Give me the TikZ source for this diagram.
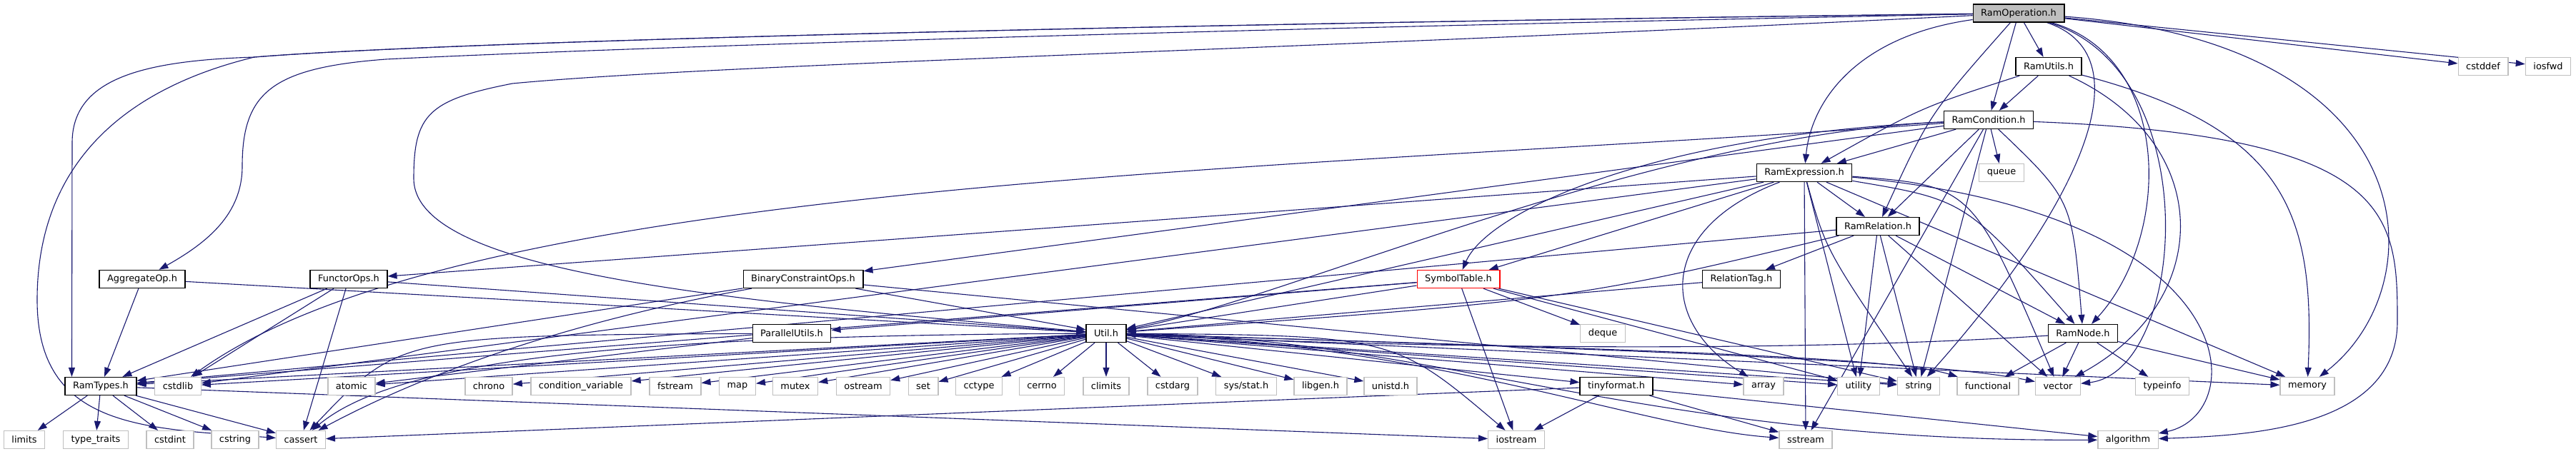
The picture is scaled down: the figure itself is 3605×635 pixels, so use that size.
\documentclass[tikz,border=0pt]{standalone}
\usepackage{fontspec}
\setmainfont{DejaVu Sans}
\usetikzlibrary{arrows.meta,backgrounds}

\definecolor{edgeblue}{HTML}{191970}
\definecolor{sysgray}{HTML}{BFBFBF}

\tikzset{
  hdr/.style={draw=black, line width=1.3pt, fill=white, minimum height=25pt,
    inner xsep=11pt, inner ysep=2pt, font=\fontsize{12.9pt}{15pt}\selectfont},
  syshdr/.style={hdr, draw=sysgray},
  mainhdr/.style={hdr, fill=sysgray},
  trunchdr/.style={hdr, draw=red},
  incl/.style={draw=edgeblue, line width=1.1pt, -{Triangle[length=13pt,width=9pt]}},
}

\begin{document}
\begin{tikzpicture}[x=1pt, y=-1pt]
    \useasboundingbox (0,0) rectangle (3605,635);

    % project headers
    \node[mainhdr] (op) at (2825,18.5) {RamOperation.h};
    \node[hdr] (utils) at (2867,93) {RamUtils.h};
    \node[hdr] (cond) at (2783,168) {RamCondition.h};
    \node[hdr] (expr) at (2525,242) {RamExpression.h};
    \node[hdr] (rel) at (2628,317) {RamRelation.h};
    \node[hdr] (aggr) at (199,391) {AggregateOp.h};
    \node[hdr] (functor) at (488,391) {FunctorOps.h};
    \node[hdr] (binop) at (1124,391) {BinaryConstraintOps.h};
    \node[trunchdr] (symtab) at (2041,391) {SymbolTable.h};
    \node[hdr] (reltag) at (2437,391) {RelationTag.h};
    \node[hdr] (parallel) at (1108,467) {ParallelUtils.h};
    \node[hdr] (util) at (1548,467) {Util.h};
    \node[hdr] (ramnode) at (2915,467) {RamNode.h};
    \node[hdr] (types) at (141,541) {RamTypes.h};
    \node[hdr] (tinyformat) at (2262,541) {tinyformat.h};

    % system headers
    \node[syshdr] (cstddef) at (3475,93) {cstddef};
    \node[syshdr] (iosfwd) at (3566,93) {iosfwd};
    \node[syshdr] (queue) at (2801,242) {queue};
    \node[syshdr] (deque) at (2243,467) {deque};
    \foreach \n/\x/\t in {cstdlib/249/cstdlib, atomic/492/atomic, chrono/684/chrono,
        condvar/813/condition\_variable, fstream/945/fstream, map/1032/map,
        mutex/1113/mutex, ostream/1208/ostream, set/1292/set, cctype/1370/cctype,
        cerrno/1458/cerrno, climits/1548/climits, cstdarg/1641/cstdarg,
        sysstat/1744/{sys/stat.h}, libgen/1848/libgen.h, unistd/1946/unistd.h,
        array/2468/array, utility/2601/utility, string/2685/string,
        functional/2782/functional, vector/2880/vector, typeinfo/3026/typeinfo,
        memory/3229/memory}
      \node[syshdr] (\n) at (\x,541) {\t};
    \foreach \n/\x/\t in {limits/34/limits, typetraits/134/type\_traits,
        cstdint/238/cstdint, cstring/329/cstring, cassert/421/cassert,
        iostream/2122/iostream, sstream/2527/sstream, algorithm/2978/algorithm}
      \node[syshdr] (\n) at (\x,616) {\t};

    \begin{scope}[on background layer]
    % RamOperation.h
    \draw[incl] (op) -- (utils);
    \draw[incl] (op) -- (cond);
    \draw[incl] (op) -- (cstddef);
    \draw[incl] (op) -- (iosfwd);
    \draw[incl] (op) .. controls (2600,50) and (2535,140) .. (expr);
    \draw[incl] (op) .. controls (2700,160) .. (rel);
    \draw[incl] (op) .. controls (3040,80) and (3040,330) .. (ramnode);
    \draw[incl] (op) .. controls (3010,80) and (2900,300) .. (string);
    \draw[incl] (op) .. controls (3090,100) and (3060,520) .. (vector);
    \draw[incl] (op) .. controls (3400,60) and (3410,400) .. (memory);
    \draw[incl] (op) .. controls (1500,35) and (600,60) .. (356,80)
      .. controls (200,85) and (101,110) .. (101,200) -- ([xshift=10pt]types.north west);
    \draw[incl] (op) .. controls (1500,35) and (600,60) .. (356,80)
      .. controls (150,130) and (52,250) .. (52,420)
      .. controls (52,600) and (200,600) .. (cassert);
    \draw[incl] (op) .. controls (1500,45) and (800,70) .. (540,83)
      .. controls (380,95) and (339,130) .. (339,233)
      .. controls (339,300) and (290,340) .. (aggr);
    \draw[incl] (op) .. controls (1800,70) and (1000,90) .. (717,117)
      .. controls (600,140) and (579,160) .. (579,250)
      .. controls (579,380) and (1000,420) .. (util);

    % RamUtils.h
    \draw[incl] (utils) -- (cond);
    \draw[incl] (utils) .. controls (2690,150) .. (expr);
    \draw[incl] (utils) .. controls (3200,180) and (3240,300) .. (memory);
    \draw[incl] (utils) .. controls (3100,200) and (3100,420) .. (vector);

    % RamCondition.h
    \draw[incl] (cond) -- (queue);
    \draw[incl] (cond) -- (expr);
    \draw[incl] (cond) -- (rel);
    \draw[incl] (cond) .. controls (2900,280) .. (ramnode);
    \draw[incl] (cond) -- (string);
    \draw[incl] (cond) -- (sstream);
    \draw[incl] (cond) -- (binop);
    \draw[incl] (cond) .. controls (2300,190) and (2080,300) .. (symtab);
    \draw[incl] (cond) .. controls (2300,190) and (1800,420) .. (util);
    \draw[incl] (cond) .. controls (1800,240) and (650,250) .. (cstdlib);
    \draw[incl] (cond) .. controls (3350,190) and (3355,300) .. (3355,450)
      .. controls (3355,600) and (3150,610) .. (algorithm);

    % RamExpression.h
    \draw[incl] (expr) -- (rel);
    \draw[incl] (expr) -- (symtab);
    \draw[incl] (expr) -- (functor);
    \draw[incl] (expr) -- (util);
    \draw[incl] (expr) -- (cstdlib);
    \draw[incl] (expr) -- (utility);
    \draw[incl] (expr) -- (sstream);
    \draw[incl] (expr) -- (memory);
    \draw[incl] (expr) .. controls (2750,280) .. (ramnode);
    \draw[incl] (expr) .. controls (2320,320) and (2320,450) .. (array);
    \draw[incl] (expr) .. controls (2555,350) .. (string);
    \draw[incl] (expr) .. controls (2760,260) .. (vector);
    \draw[incl] (expr) .. controls (3150,300) and (3150,580) .. (algorithm);

    % RamRelation.h
    \draw[incl] (rel) -- (reltag);
    \draw[incl] (rel) -- (ramnode);
    \draw[incl] (rel) -- (utility);
    \draw[incl] (rel) -- (string);
    \draw[incl] (rel) -- (vector);
    \draw[incl] (rel) -- (types);
    \draw[incl] (rel) .. controls (2200,420) .. (util);
    \draw[incl] (reltag) -- (util);

    % SymbolTable.h
    \foreach \t in {parallel, util, deque, iostream, string, utility, types}
      \draw[incl] (symtab) -- (\t);

    % operator headers
    \draw[incl] (aggr) -- (types);
    \draw[incl] (aggr) -- (util);
    \foreach \t in {types, cstdlib, cassert, util}
      \draw[incl] (functor) -- (\t);
    \foreach \t in {types, util, string}
      \draw[incl] (binop) -- (\t);
    \draw[incl] (binop) .. controls (800,450) and (600,520) .. (cassert);
    \draw[incl] (parallel) -- (atomic);
    \draw[incl] (parallel) .. controls (560,470) .. (cassert);

    % Util.h
    \foreach \t in {types, cstdlib, atomic, chrono, condvar, fstream, map, mutex,
        ostream, set, cctype, cerrno, climits, cstdarg, sysstat, libgen, unistd,
        tinyformat, array, utility, string, memory}
      \draw[incl] (util) -- (\t);
    \draw[incl] (util) .. controls (900,470) and (560,500) .. (cassert);
    \draw[incl] (util) .. controls (1950,470) .. (iostream);
    \draw[incl] (util) .. controls (2000,480) and (2300,600) .. (sstream);
    \draw[incl] (util) .. controls (2000,470) and (2300,620) .. (algorithm);
    \draw[incl] (util) .. controls (2300,490) and (2650,500) .. (functional);
    \draw[incl] (util) .. controls (2300,490) and (2700,505) .. (vector);

    % RamNode.h
    \draw[incl] (ramnode) .. controls (2400,500) and (1800,480) .. (util);
    \foreach \t in {functional, vector, typeinfo, memory}
      \draw[incl] (ramnode) -- (\t);

    % tinyformat.h
    \foreach \t in {cassert, iostream, sstream, algorithm}
      \draw[incl] (tinyformat) -- (\t);

    % RamTypes.h
    \foreach \t in {limits, typetraits, cstdint, cstring, cassert, iostream}
      \draw[incl] (types) -- (\t);
    \end{scope}
\end{tikzpicture}
\end{document}
